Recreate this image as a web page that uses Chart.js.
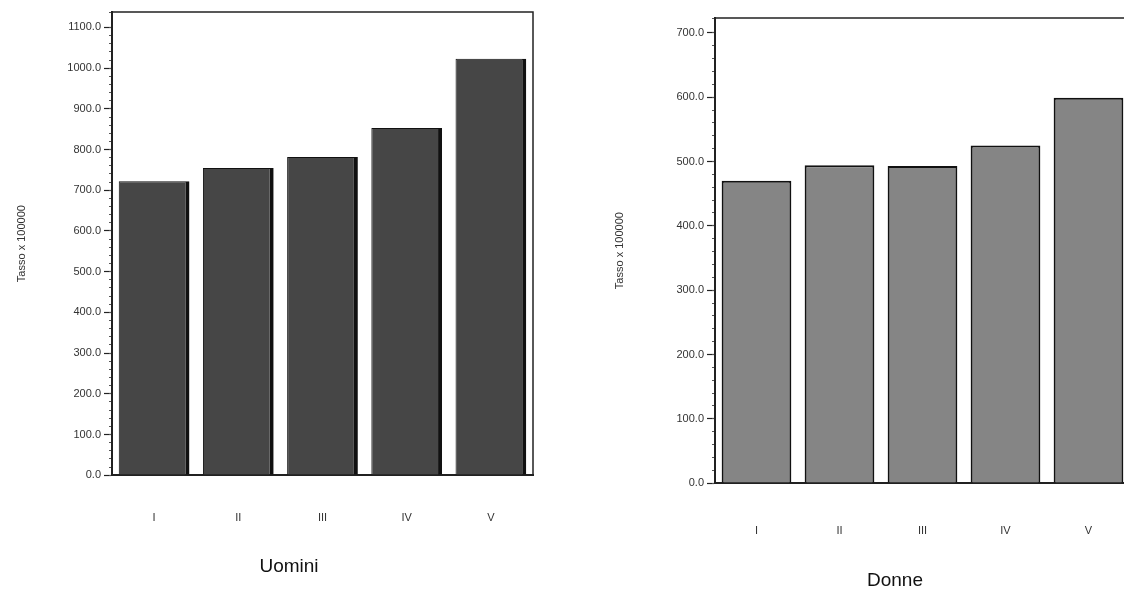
<!DOCTYPE html>
<html>
<head>
<meta charset="utf-8">
<script src="https://cdn.jsdelivr.net/npm/chart.js@4.4.1/dist/chart.umd.min.js"></script>
<style>
  html, body { margin: 0; padding: 0; background: #fff; overflow: hidden; width: 1124px; height: 592px; }
  canvas { position: absolute; top: 0; }
  #uomini { left: 0; }
  #donne { left: 609px; }
</style>
</head>
<body>
<canvas id="uomini" width="578" height="592"></canvas>
<canvas id="donne" width="572" height="592"></canvas>
<script>
// classi sociali e tassi
const classi = ['I', 'II', 'III', 'IV', 'V'];
const tassiUomini = [722, 755, 782, 853, 1023];
const tassiDonne = [470, 494, 493, 525, 599];
const tickUomini = [0, 100, 200, 300, 400, 500, 600, 700, 800, 900, 1000, 1100];
const tickDonne = [0, 100, 200, 300, 400, 500, 600, 700];

Chart.defaults.font.family = "'Liberation Sans', Arial, sans-serif";
Chart.defaults.color = '#333';

// frame around the plot area
const cornice = {
  id: 'cornice',
  afterDatasetsDraw(chart) {
    const { ctx, chartArea: a } = chart;
    ctx.save();
    ctx.strokeStyle = '#222';
    ctx.lineWidth = 1.5;
    ctx.strokeRect(a.left, a.top, a.right - a.left, a.bottom - a.top);
    ctx.restore();
  }
};

function grafico(id, valori, tickVals, max, s) {
  return new Chart(document.getElementById(id), {
    type: 'bar',
    data: {
      labels: classi,
      datasets: [{
        data: valori,
        backgroundColor: s.fill,
        borderColor: '#111',
        borderWidth: s.edge,
        categoryPercentage: 1,
        barPercentage: 0.84
      }]
    },
    plugins: [cornice],
    options: {
      responsive: false,
      animation: false,
      layout: { padding: s.pad },
      plugins: {
        legend: { display: false },
        tooltip: { enabled: false },
        title: {
          display: true,
          position: 'bottom',
          text: s.titolo,
          color: '#111',
          font: { size: 19, weight: 'normal' },
          padding: { top: 0, bottom: s.titleBottom }
        }
      },
      scales: {
        x: {
          grid: { display: false },
          border: { color: '#222', width: 2 },
          ticks: { padding: s.xPad, color: '#333', font: { size: 11 } },
          afterFit: sc => { sc.height = s.xHeight; }
        },
        y: {
          min: 0,
          max: max,
          weight: 1,
          afterBuildTicks: sc => { sc.ticks = tickVals.map(v => ({ value: v })); },
          afterFit: sc => { sc.width = s.yWidth; },
          grid: { drawOnChartArea: false, tickLength: 8, tickColor: '#222', tickWidth: 1.2 },
          border: { color: '#222', width: 2 },
          ticks: { callback: v => v.toFixed(1), color: '#333', font: { size: 11 }, padding: 3 },
          title: { display: true, text: 'Tasso x 100000', color: '#333', font: { size: 11 }, padding: { top: 4, bottom: 0 } }
        },
        ym: {
          position: 'left',
          min: 0,
          max: max,
          weight: 0,
          ticks: { display: false, stepSize: 20 },
          grid: { drawOnChartArea: false, tickLength: 3, tickColor: '#555' },
          border: { display: false },
          afterFit: sc => { sc.width = 0; }
        },
        // empty space on the right so the title sits where it does in the original
        yr: {
          position: 'right',
          min: 0,
          max: max,
          ticks: { display: false },
          grid: { display: false },
          border: { display: false },
          afterFit: sc => { sc.width = s.rightGap; }
        }
      }
    }
  });
}

grafico('uomini', tassiUomini, tickUomini, 1138, {
  titolo: 'Uomini',
  fill: '#464646',
  edge: { left: 1, right: 4, top: 1, bottom: 0 },
  pad: { left: 11, right: 11, top: 12, bottom: 0 },
  rightGap: 34,
  yWidth: 101,
  xHeight: 80,
  xPad: 28,
  titleBottom: 14
});

grafico('donne', tassiDonne, tickDonne, 723, {
  titolo: 'Donne',
  fill: '#858585',
  edge: { left: 2, right: 2, top: 2, bottom: 0 },
  pad: { left: 0, right: 0, top: 18, bottom: 0 },
  rightGap: 51,
  yWidth: 106,
  xHeight: 86,
  xPad: 33,
  titleBottom: 0
});
</script>
</body>
</html>
